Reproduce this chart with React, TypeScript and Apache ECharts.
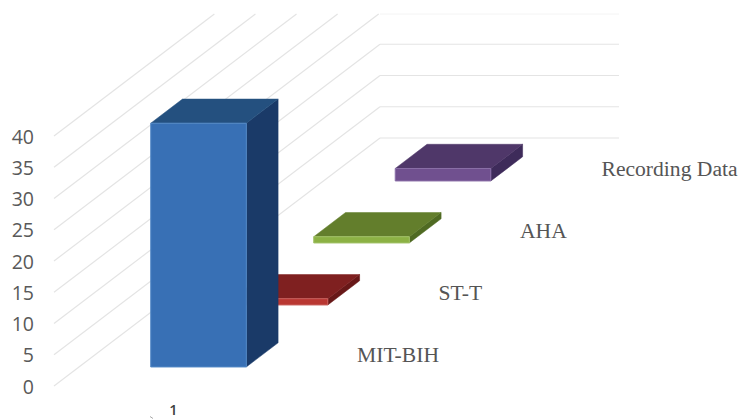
import React, { useEffect, useRef } from "react";
import * as echarts from "echarts";

const barCategories = ["1"];
const yTicks = [0, 5, 10, 15, 20, 25, 30, 35, 40];
const depthNames = ["MIT-BIH", "ST-T", "AHA", "Recording Data"];
const depthValues = [39, 1, 1, 2];

// front, top and side shades for each bar
const shades = [
  { front: "#3870b5", top: "#24507f", side: "#1a3a68", edge: "#5288c6" },
  { front: "#b93732", top: "#7f2020", side: "#681818", edge: "#c9605c" },
  { front: "#8cb144", top: "#637e2c", side: "#4f6a22", edge: "#a2c268" },
  { front: "#70508f", top: "#4f3769", side: "#3e2b5a", edge: "#8a6fa8" },
];

// one depth slot in pixels along the floor diagonal
const SLOT_DX = 81.5;
const SLOT_DY = -62;
const BAR_WIDTH_RATIO = 0.4;
const BAR_DEPTH_START = 0.307;
const BAR_DEPTH_END = 0.697;
const TOP_EDGE = 14;
const GRID_COLOR = "#e4e4e4";

const project = (p: number[], depth: number) => [p[0] + depth * SLOT_DX, p[1] + depth * SLOT_DY];

// trim a segment so nothing rises above the plot's top edge
const trimTop = (a: number[], b: number[]) => {
  if (b[1] >= TOP_EDGE) return b;
  const t = (a[1] - TOP_EDGE) / (a[1] - b[1]);
  return [a[0] + (b[0] - a[0]) * t, TOP_EDGE];
};

const renderWallLine = (_params: any, api: any) => {
  const value = api.value(1);
  const base = api.coord([0, value]);
  const band = api.size([1, 0])[0];
  const start = [base[0] - band / 2, base[1]];
  const corner = project(start, depthNames.length);
  const end = [corner[0] + band, corner[1]];
  const children: any[] = [];
  if (start[1] >= TOP_EDGE) {
    const tip = trimTop(start, corner);
    children.push({
      type: "line",
      shape: { x1: start[0], y1: start[1], x2: tip[0], y2: tip[1] },
      style: { stroke: GRID_COLOR, lineWidth: 1.2 },
    });
  }
  if (corner[1] >= TOP_EDGE) {
    children.push({
      type: "line",
      shape: { x1: corner[0], y1: corner[1], x2: end[0], y2: end[1] },
      style: { stroke: GRID_COLOR, lineWidth: 1.2 },
    });
  } else if (corner[1] >= TOP_EDGE - 4) {
    children.push({
      type: "line",
      shape: { x1: corner[0], y1: TOP_EDGE, x2: end[0], y2: TOP_EDGE },
      style: { stroke: "#f4f4f4", lineWidth: 1 },
    });
  }
  return { type: "group", children };
};

const renderBar = (slot: number) => (_params: any, api: any) => {
  const value = api.value(1);
  const bottom = api.coord([0, 0]);
  const top = api.coord([0, value]);
  const band = api.size([1, 0])[0];
  const width = band * BAR_WIDTH_RATIO;
  const left = bottom[0] - width / 2;
  const right = left + width;
  const d0 = slot + BAR_DEPTH_START;
  const d1 = slot + BAR_DEPTH_END;
  const fl = project([left, top[1]], d0);
  const fr = project([right, top[1]], d0);
  const br = project([right, top[1]], d1);
  const bl = project([left, top[1]], d1);
  const lowR = project([right, bottom[1]], d0);
  const lowL = project([left, bottom[1]], d0);
  const lowBack = project([right, bottom[1]], d1);
  const c = shades[slot];
  return {
    type: "group",
    children: [
      {
        type: "polygon",
        shape: { points: [fr, br, lowBack, lowR] },
        style: { fill: c.side, stroke: c.side, lineWidth: 0.5 },
      },
      {
        type: "polygon",
        shape: { points: [fl, bl, br, fr] },
        style: { fill: c.top, stroke: c.top, lineWidth: 0.5 },
      },
      {
        type: "polygon",
        shape: { points: [fl, fr, lowR, lowL] },
        style: { fill: c.front, stroke: c.edge, lineWidth: 1 },
      },
    ],
  };
};

const renderDepthName = (_params: any, api: any) => {
  const slot = api.value(0);
  const base = api.coord([0, 0]);
  const band = api.size([1, 0])[0];
  const anchor = project([base[0] + band / 2, base[1]], slot);
  return {
    type: "text",
    x: anchor[0] + 64,
    y: anchor[1] - 31,
    style: {
      text: depthNames[slot],
      fill: "#555555",
      font: '21.6px "Liberation Serif", serif',
      textAlign: "left",
      textVerticalAlign: "middle",
    },
  };
};

export default function App() {
  const ref = useRef<HTMLDivElement>(null);

  useEffect(() => {
    const chart = echarts.init(ref.current!, undefined, { renderer: "svg" });
    chart.setOption({
      animation: false,
      backgroundColor: "#ffffff",
      grid: { left: 54, top: 136, width: 239, height: 250 },
      xAxis: {
        type: "category",
        data: barCategories,
        axisLine: { show: false },
        axisTick: { show: false },
        axisLabel: {
          margin: 16,
          color: "#404040",
          fontFamily: "Open Sans",
          fontWeight: 600,
          fontSize: 14.5,
        },
      },
      yAxis: {
        type: "value",
        min: 0,
        max: 40,
        interval: 5,
        axisLine: { show: false },
        axisTick: { show: false },
        splitLine: { show: false },
        axisLabel: {
          margin: 20,
          color: "#595959",
          fontFamily: "Open Sans",
          fontSize: 19.5,
        },
      },
      graphic: [
        {
          // small stray tick under the category axis
          type: "line",
          shape: { x1: 150, y1: 416.5, x2: 153, y2: 418.5 },
          style: { stroke: "#a8a8a8", lineWidth: 1 },
        },
      ],
      series: [
        {
          type: "custom",
          name: "walls",
          z: 1,
          silent: true,
          renderItem: renderWallLine,
          data: yTicks.map((v) => [0, v]),
        },
        // back-most bar first so nearer bars overlap it
        ...depthNames.map((name, slot) => ({
          type: "custom",
          name,
          z: 10 - slot,
          silent: true,
          renderItem: renderBar(slot),
          data: [[0, depthValues[slot]]],
        })),
        {
          type: "custom",
          name: "names",
          z: 20,
          silent: true,
          renderItem: renderDepthName,
          data: depthNames.map((_, slot) => [slot, 0]),
        },
      ],
    });
    return () => chart.dispose();
  }, []);

  return <div ref={ref} style={{ position: "fixed", left: 0, top: 0, width: 739, height: 419 }} />;
}
